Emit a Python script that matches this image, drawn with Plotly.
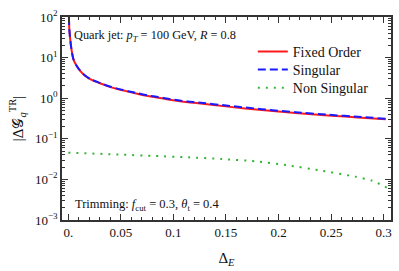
import plotly.graph_objects as go

# --- data ---
x_main = [0.0006, 0.001, 0.0026, 0.0048, 0.0079, 0.0111, 0.0159, 0.0222, 0.0301, 0.038,
          0.0475, 0.057, 0.0665, 0.076, 0.0856, 0.095, 0.1046, 0.114, 0.1236, 0.152,
          0.184, 0.216, 0.247, 0.279, 0.302]
fixed_order = [100, 48, 19, 9.2, 6.3, 4.8, 3.58, 2.82, 2.33, 1.96,
               1.66, 1.45, 1.27, 1.13, 1.03, 0.93, 0.85, 0.79, 0.75, 0.62,
               0.51, 0.43, 0.375, 0.332, 0.305]
singular = [100, 48, 19, 9.25, 6.34, 4.84, 3.62, 2.86, 2.37, 2.0,
            1.70, 1.49, 1.31, 1.17, 1.065, 0.965, 0.885, 0.825, 0.785, 0.652,
            0.538, 0.452, 0.392, 0.344, 0.312]
x_ns = [0.0, 0.051, 0.0827, 0.114, 0.146, 0.178, 0.209, 0.241, 0.273, 0.289, 0.303]
non_singular = [0.0455, 0.0407, 0.0377, 0.035, 0.0318, 0.0279, 0.0222, 0.0164, 0.0117, 0.0093, 0.0063]

x_ticks = [0, 0.05, 0.1, 0.15, 0.2, 0.25, 0.3]
x_tick_labels = ["0.", "0.05", "0.1", "0.15", "0.2", "0.25", "0.3"]
y_ticks = [1e-3, 1e-2, 1e-1, 1e0, 1e1, 1e2]
y_tick_labels = ["10<sup>−3</sup>", "10<sup>−2</sup>", "10<sup>−1</sup>",
                 "10<sup>0</sup>", "10<sup>1</sup>", "10<sup>2</sup>"]

FONT = "Liberation Serif"
AX = "#333333"

fig = go.Figure()
fig.add_trace(go.Scatter(x=x_main, y=fixed_order, mode="lines", name="Fixed Order", legend="legend",
                         line=dict(color="#ff1a1a", width=2, shape="spline", smoothing=0.6)))
fig.add_trace(go.Scatter(x=x_main, y=singular, mode="lines", name="Singular", legend="legend2",
                         line=dict(color="#1a1aff", width=2, dash="8px,4px", shape="spline", smoothing=0.6)))
fig.add_trace(go.Scatter(x=x_ns, y=non_singular, mode="lines", name="Non Singular", legend="legend3",
                         line=dict(color="#33b533", width=2, dash="2px,6px", shape="spline", smoothing=0.6)))

minor_y = [m * 10 ** e for e in range(-3, 2) for m in range(2, 10)]
minor_x = [round(0.01 * i, 2) for i in range(0, 31) if i % 5 != 0]

leg = dict(x=0.58, xanchor="left", yanchor="middle", bgcolor="rgba(0,0,0,0)",
           font=dict(size=14), itemwidth=30)

fig.update_layout(
    width=399, height=271,
    margin=dict(l=62, r=8, t=17, b=51),
    paper_bgcolor="white", plot_bgcolor="white",
    font=dict(family=FONT, size=14, color="#111111"),
    showlegend=True,
    legend=dict(leg, y=0.828),
    legend2=dict(leg, y=0.739),
    legend3=dict(leg, y=0.650),
    xaxis=dict(range=[-0.006, 0.307], tickmode="array", tickvals=x_ticks, ticktext=x_tick_labels,
               automargin=False,
               showline=True, linecolor=AX, linewidth=1.5, mirror="ticks",
               ticks="inside", ticklen=6, tickwidth=1.2, tickcolor=AX,
               showgrid=False, zeroline=False, tickfont=dict(size=13),
               minor=dict(tickvals=minor_x, ticks="inside", ticklen=3, tickcolor=AX, tickwidth=1),
               title=dict(text="Δ<sub><i>E</i></sub>", font=dict(size=15), standoff=13)),
    yaxis=dict(type="log", range=[-3, 2], tickmode="array", tickvals=y_ticks, ticktext=y_tick_labels,
               automargin=False,
               showline=True, linecolor=AX, linewidth=1.5, mirror="ticks",
               ticks="inside", ticklen=6, tickwidth=1.2, tickcolor=AX,
               showgrid=False, zeroline=False, tickfont=dict(size=13),
               minor=dict(tickvals=minor_y, ticks="inside", ticklen=3, tickcolor=AX, tickwidth=1),
               title=dict(text="|Δ𝒢<sub><i>q</i></sub><sup>TR</sup>|", font=dict(size=15), standoff=8)),
)

fig.add_annotation(xref="paper", yref="paper", x=0.03, y=0.905, xanchor="left", yanchor="middle",
                   showarrow=False, font=dict(size=12.3),
                   text="Quark jet: <i>p<sub>T</sub></i> = 100 GeV, <i>R</i> = 0.8")
fig.add_annotation(xref="paper", yref="paper", x=0.033, y=0.075, xanchor="left", yanchor="middle",
                   showarrow=False, font=dict(size=12.5),
                   text="Trimming: <i>f</i><sub>cut</sub> = 0.3, <i>θ</i><sub>t</sub> = 0.4")

fig.write_html("out.html", config={"displayModeBar": False},
               post_script="document.body.style.margin='0';document.body.style.padding='0';")
